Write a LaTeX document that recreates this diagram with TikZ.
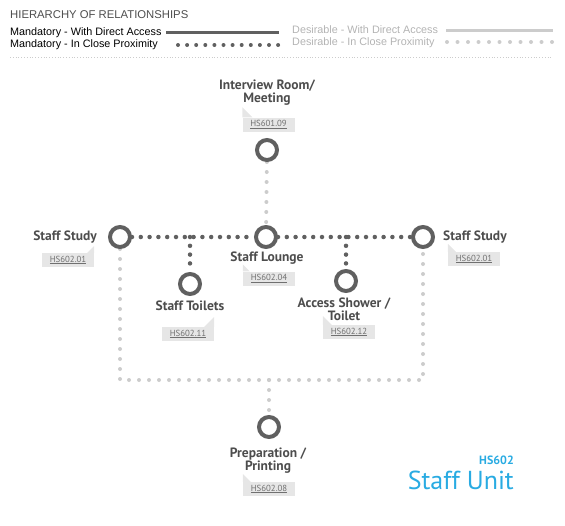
\documentclass[tikz,border=0pt]{standalone}
\usepackage{fontspec}
\setmainfont{Liberation Sans}
\newfontfamily\dinfont{PT Sans}
\usetikzlibrary{backgrounds}
\definecolor{dark}{HTML}{606060}
\definecolor{light}{HTML}{CCCCCC}
\definecolor{labelc}{HTML}{4D4D4D}
\definecolor{legdes}{HTML}{B3B3B3}
\definecolor{tagfill}{HTML}{E6E6E6}
\definecolor{tagtext}{HTML}{707070}
\definecolor{unitblue}{HTML}{29ABE2}
\tikzset{
  room/.style={circle, draw=dark, line width=4pt, fill=white, minimum size=20pt, inner sep=0pt},
  mandot/.style={draw=dark, line width=4.5pt, line cap=round, dash pattern=on 0pt off 8.8pt},
  desdot/.style={draw=light, line width=4pt, line cap=round, dash pattern=on 0pt off 10pt},
  lbl/.style={font=\dinfont\bfseries\fontsize{13.5}{13}\selectfont, text=labelc, align=center, inner sep=0pt},
  tagbox/.style={fill=tagfill, text=tagtext, font=\dinfont\fontsize{8.8}{9}\selectfont, minimum width=52pt, minimum height=14pt, inner sep=0pt},
  legtxt/.style={anchor=base west, inner sep=0pt, font=\fontsize{10.8}{12}\selectfont},
}
\begin{document}
\begin{tikzpicture}[x=1pt,y=-1pt]
\useasboundingbox (0,0) rectangle (565,525);

% ---------- legend ----------
\node[anchor=base west, inner sep=0pt, font=\fontsize{11.3}{12}\selectfont, text=labelc] (hdr) at (10,18) {HIERARCHY OF RELATIONSHIPS};
\node[legtxt, text=black] (m1) at (10,35) {Mandatory - With Direct Access};
\node[legtxt, text=black] (m2) at (10,47) {Mandatory - In Close Proximity};
\node[legtxt, text=legdes] (d1) at (292,33) {Desirable - With Direct Access};
\node[legtxt, text=legdes] (d2) at (292,45) {Desirable - In Close Proximity};
\coordinate (m1a) at (166,32); \coordinate (m1b) at (279,32);
\coordinate (m2a) at (178,45); \coordinate (m2b) at (279,45);
\coordinate (d1a) at (446,30); \coordinate (d1b) at (553,30);
\coordinate (d2a) at (447,42); \coordinate (d2b) at (553,42);
\coordinate (sepa) at (10,57); \coordinate (sepb) at (553,57);
\draw[dark, line width=3pt] (m1a) -- (m1b);
\draw[dark, line width=4pt, line cap=round, dash pattern=on 0pt off 9.1pt] (m2a) -- (m2b);
\draw[light, line width=3pt] (d1a) -- (d1b);
\draw[light, line width=4pt, line cap=round, dash pattern=on 0pt off 10.5pt] (d2a) -- (d2b);
\draw[light, line width=0.8pt, dash pattern=on 0.8pt off 2pt] (sepa) -- (sepb);

% ---------- rooms ----------
\node[room] (iv) at (267,150) {};
\node[room] (sL) at (120,237) {};
\node[room] (lounge) at (266,237) {};
\node[room] (sR) at (423,237) {};
\node[room] (toil) at (190,284) {};
\node[room] (shower) at (346,281) {};
\node[room] (prep) at (269,427) {};
\coordinate (j1) at (190,237);
\coordinate (j2) at (346,237);
\coordinate (j3) at (269,380);

\begin{pgfonlayer}{background}
\draw[desdot] (iv) -- (lounge);
\draw[mandot] (sL) -- (lounge);
\draw[mandot] (lounge) -- (sR);
\draw[mandot] (j1) -- (toil);
\draw[mandot] (j2) -- (shower);
\draw[desdot] (sL) |- (j3) -| (sR);
\draw[desdot] (j3) -- (prep);
\end{pgfonlayer}

% ---------- labels ----------
\node[lbl] (ivl) at (267,93) {Interview Room/\\Meeting};
\node[lbl, anchor=east] (sLl) at (97,237) {Staff Study};
\node[lbl] (loungel) at (267,258) {Staff Lounge};
\node[lbl, anchor=west] (sRl) at (443,237) {Staff Study};
\node[lbl] (toill) at (190,306) {Staff Toilets};
\node[lbl] (showerl) at (344,309) {Access Shower /\\Toilet};
\node[lbl] (prepl) at (268,461) {Preparation /\\Printing};

% ---------- tags ----------
\node[tagbox] (ivt) at (268.5,124.5) {\underline{HS601.09}};
\fill[tagfill] (ivt.north west) -- ++(0,-10) -- ++(10,10) -- cycle;
\node[tagbox] (sLt) at (68,260) {\underline{HS602.01}};
\fill[tagfill] (sLt.north east) -- ++(0,-7) -- ++(-7,7) -- cycle;
\node[tagbox] (loungetag) at (269,278.5) {\underline{HS602.04}};
\fill[tagfill] (loungetag.north west) -- ++(0,-7) -- ++(7,7) -- cycle;
\node[tagbox] (sRt) at (474,259) {\underline{HS602.01}};
\fill[tagfill] (sRt.north west) -- ++(0,-8) -- ++(8,8) -- cycle;
\node[tagbox] (toilt) at (188,334) {\underline{HS602.11}};
\fill[tagfill] (toilt.north east) -- ++(0,-10) -- ++(-10,10) -- cycle;
\node[tagbox] (showert) at (349,332) {\underline{HS602.12}};
\fill[tagfill] (showert.north west) -- ++(0,-9) -- ++(9,9) -- cycle;
\node[tagbox] (prept) at (269,489) {\underline{HS602.08}};
\fill[tagfill] (prept.north west) -- ++(0,-8) -- ++(8,8) -- cycle;

% ---------- title ----------
\node[anchor=base east, inner sep=0pt, font=\dinfont\bfseries\fontsize{12}{13}\selectfont, text=unitblue] (code) at (514,464) {HS602};
\node[anchor=base east, inner sep=0pt, font=\dinfont\fontsize{26}{28}\selectfont, text=unitblue] (unit) at (514,489) {Staff Unit};
\end{tikzpicture}
\end{document}
